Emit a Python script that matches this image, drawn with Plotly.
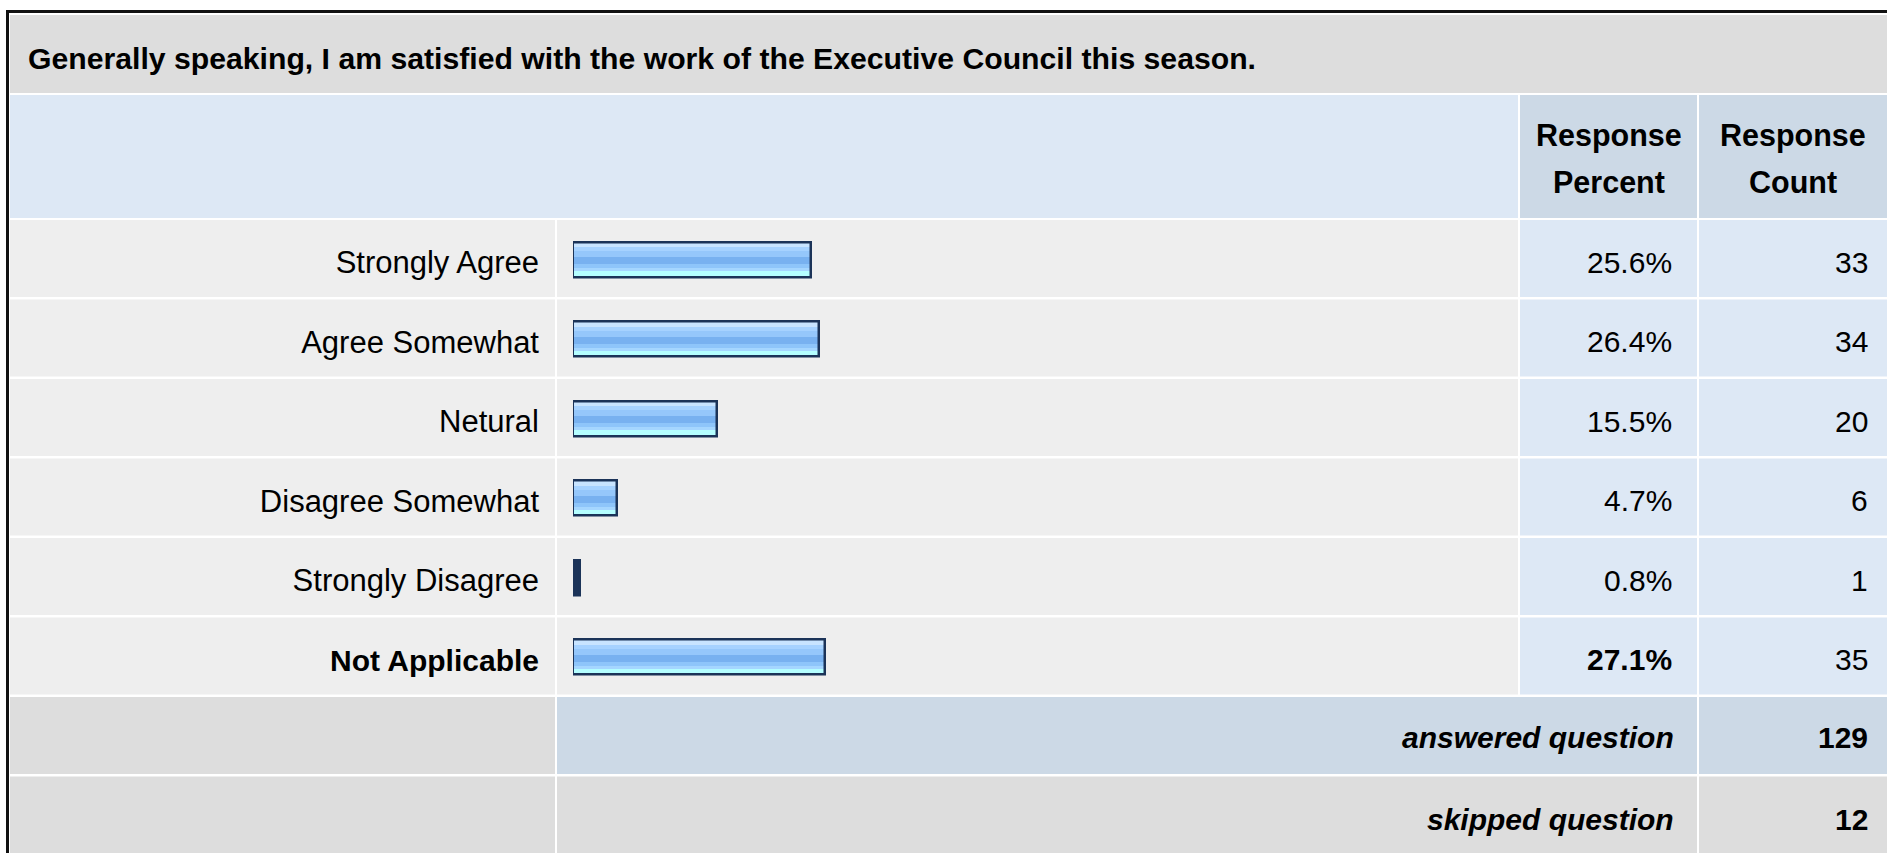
import plotly.graph_objects as go

W, H = 1887, 853

question = "Generally speaking, I am satisfied with the work of the Executive Council this season."
answers = ["Strongly Agree", "Agree Somewhat", "Netural", "Disagree Somewhat",
           "Strongly Disagree", "Not Applicable"]
percents = [25.6, 26.4, 15.5, 4.7, 0.8, 27.1]
counts = [33, 34, 20, 6, 1, 35]
answered = 129
skipped = 12

FONT = "Arial, Liberation Sans, sans-serif"
FS = 30

# pixel helpers (screen px -> paper)
def px(x):
    return x / W

def py(y):
    return 1 - y / H

# table grid (screen px)
LABEL = (10, 555)
BARCOL = (557, 1518)
PCT = (1520, 1697)
CNT = (1699, 1887)
ROW_TOP, ROW_PX, GAP = 220, 79.5, 2.5
TXT_DY = 2.5  # text sits slightly lower than the row centre

GRAY = "#dddddd"
LIGHT = "#eeeeee"
BLUE = "#dde8f5"
BLUE2 = "#ccd9e6"

shapes = []

def cell(x0, x1, y0, y1, color):
    shapes.append(dict(type="rect", xref="paper", yref="paper",
                       x0=px(x0), x1=px(x1), y0=py(y1), y1=py(y0),
                       fillcolor=color, line_width=0, layer="below"))

# title band + header
cell(10, W, 15, 93, GRAY)
cell(10, BARCOL[1], 95, 218, BLUE)
cell(PCT[0], PCT[1], 95, 218, BLUE2)
cell(CNT[0], CNT[1], 95, 218, BLUE2)

# answer rows
for i in range(len(answers)):
    t = ROW_TOP + i * ROW_PX
    b = t + ROW_PX - GAP
    cell(LABEL[0], LABEL[1], t, b, LIGHT)
    cell(BARCOL[0], BARCOL[1], t, b, LIGHT)
    cell(PCT[0], PCT[1], t, b, BLUE)
    cell(CNT[0], CNT[1], t, b, BLUE)

# summary rows
t = ROW_TOP + len(answers) * ROW_PX
cell(LABEL[0], LABEL[1], t, t + ROW_PX - GAP, GRAY)
cell(BARCOL[0], PCT[1], t, t + ROW_PX - GAP, BLUE2)
cell(CNT[0], CNT[1], t, t + ROW_PX - GAP, BLUE2)
t2 = t + ROW_PX
cell(LABEL[0], LABEL[1], t2, H + 5, GRAY)
cell(BARCOL[0], PCT[1], t2, H + 5, GRAY)
cell(CNT[0], CNT[1], t2, H + 5, GRAY)

# outer black frame (left + top visible)
shapes.append(dict(type="line", xref="paper", yref="paper", x0=px(7.5), x1=px(7.5),
                   y0=py(H + 5), y1=py(10), line=dict(color="#111111", width=3)))
shapes.append(dict(type="line", xref="paper", yref="paper", x0=px(6), x1=px(W + 5),
                   y0=py(11.5), y1=py(11.5), line=dict(color="#111111", width=3)))

fig = go.Figure()

# glossy bar stripes (px from bar top, bar is 35px tall)
BAR_PX = 35
OFF0 = -BAR_PX / 2 - TXT_DY
stripes = [(0, 4.7, "#c8e4ff"), (4.7, 8.7, "#a6d2ff"), (8.7, 14.7, "#95c7fb"),
           (14.7, 21.3, "#78b1f0"), (21.3, 25.3, "#8ec5fa"), (25.3, 28.7, "#a5d6ff"),
           (28.7, 35, "#b4feff")]
for a, b, c in stripes:
    fig.add_trace(go.Bar(
        x=percents, y=answers, orientation="h",
        width=(b - a) / ROW_PX, offset=(a + OFF0) / ROW_PX,
        marker=dict(color=c, line=dict(width=0)),
        showlegend=False, hoverinfo="skip"))

# tiny bars render as solid navy in the original
fig.add_trace(go.Bar(
    x=[p if p < 1 else 0 for p in percents], y=answers, orientation="h",
    width=BAR_PX / ROW_PX, offset=OFF0 / ROW_PX,
    marker=dict(color="#1b3358", line=dict(width=0)),
    showlegend=False, hoverinfo="skip"))

fig.add_trace(go.Bar(
    x=percents, y=answers, orientation="h",
    width=BAR_PX / ROW_PX, offset=OFF0 / ROW_PX,
    marker=dict(color="rgba(0,0,0,0)", line=dict(color="#1b3358", width=2.5)),
    showlegend=False))

top = max(percents)
ticktext = [f'<span style="font-size:30px"><b>{a}</b></span>' if p == top else a
            for a, p in zip(answers, percents)]

annotations = []
annotations.append(dict(xref="paper", yref="paper", x=px(26), y=py(58), xanchor="left",
                        yanchor="middle", showarrow=False,
                        text=f"<b>{question}</b>", font=dict(size=30.2)))
for cx, word in [((PCT[0] + PCT[1]) / 2, "Percent"), ((CNT[0] + CNT[1]) / 2, "Count")]:
    annotations.append(dict(xref="paper", yref="paper", x=px(cx), y=py(135),
                            xanchor="center", yanchor="middle", showarrow=False,
                            text="<b>Response</b>", font=dict(size=30.5)))
    annotations.append(dict(xref="paper", yref="paper", x=px(cx), y=py(182),
                            xanchor="center", yanchor="middle", showarrow=False,
                            text=f"<b>{word}</b>", font=dict(size=30.5)))

for a, p, n in zip(answers, percents, counts):
    s = f"{p:.1f}%"
    annotations.append(dict(xref="paper", yref="y", x=px(1674), y=a, xanchor="right",
                            yanchor="middle", showarrow=False,
                            text=f"<b>{s}</b>" if p == top else s))
    annotations.append(dict(xref="paper", yref="y", x=px(1870), y=a, xanchor="right",
                            yanchor="middle", showarrow=False, text=str(n)))

sum_y = [ROW_TOP + len(answers) * ROW_PX + 40.5, ROW_TOP + (len(answers) + 1) * ROW_PX + 43]
for yy, lab, val in zip(sum_y, ["answered question", "skipped question"], [answered, skipped]):
    annotations.append(dict(xref="paper", yref="paper", x=px(1676), y=py(yy), xanchor="right",
                            yanchor="middle", showarrow=False, text=f"<b><i>{lab}</i></b>"))
    annotations.append(dict(xref="paper", yref="paper", x=px(1870), y=py(yy), xanchor="right",
                            yanchor="middle", showarrow=False, text=f"<b>{val}</b>"))

fig.update_layout(
    width=W, height=H,
    margin=dict(l=0, r=0, t=0, b=0),
    paper_bgcolor="white", plot_bgcolor="rgba(0,0,0,0)",
    barmode="overlay", bargap=0,
    font=dict(family=FONT, size=FS, color="black"),
    shapes=shapes, annotations=annotations,
    xaxis=dict(domain=[px(573), px(1503)], range=[0, 100], visible=False, fixedrange=True),
    yaxis=dict(domain=[py(ROW_TOP + TXT_DY + len(answers) * ROW_PX), py(ROW_TOP + TXT_DY)],
               range=[len(answers) - 0.5, -0.5], tickmode="array",
               tickvals=answers, ticktext=ticktext, ticks="", showgrid=False,
               zeroline=False, showline=False, ticklabelstandoff=33,
               tickfont=dict(size=31, family=FONT, color="black"), fixedrange=True),
)

fig.write_html("out.html", config={"displayModeBar": False},
               post_script="document.body.style.margin='0';document.body.style.overflow='hidden';")
